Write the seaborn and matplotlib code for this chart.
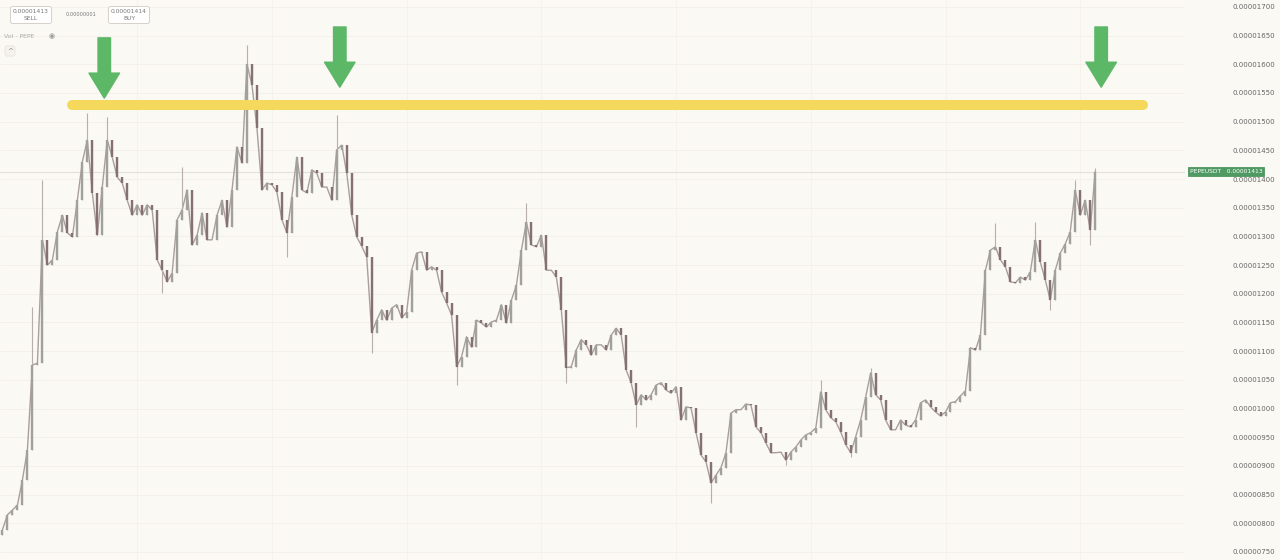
import matplotlib
matplotlib.use("Agg")
import matplotlib.pyplot as plt
import numpy as np
import pandas as pd
import seaborn as sns

# PEPE/USDT closes, in units of 1e-8 USDT (1413 -> 0.00001413)
closes = [789, 815, 823, 832, 876, 928, 1076, 1079, 1294, 1250,
          1259, 1308, 1337, 1306, 1299, 1363, 1430, 1468, 1376, 1302,
          1386, 1468, 1438, 1403, 1393, 1363, 1337, 1355, 1337, 1355,
          1346, 1259, 1241, 1221, 1236, 1329, 1346, 1381, 1285, 1302,
          1341, 1294, 1294, 1337, 1363, 1316, 1381, 1456, 1428, 1600,
          1564, 1489, 1381, 1393, 1390, 1377, 1329, 1306, 1369, 1438,
          1381, 1376, 1416, 1410, 1386, 1386, 1363, 1451, 1459, 1410,
          1337, 1299, 1283, 1264, 1132, 1154, 1172, 1154, 1175, 1181,
          1158, 1168, 1241, 1271, 1273, 1241, 1247, 1241, 1203, 1184,
          1163, 1073, 1090, 1125, 1107, 1154, 1149, 1142, 1151, 1154,
          1181, 1149, 1189, 1215, 1276, 1325, 1285, 1282, 1302, 1241,
          1241, 1229, 1172, 1071, 1073, 1102, 1120, 1111, 1093, 1111,
          1111, 1102, 1128, 1140, 1128, 1067, 1045, 1006, 1024, 1015,
          1024, 1041, 1045, 1032, 1027, 1038, 980, 1003, 1001, 958,
          919, 907, 870, 884, 897, 923, 992, 998, 998, 1008,
          1006, 968, 958, 940, 923, 923, 924, 910, 924, 933,
          945, 954, 958, 966, 1029, 998, 984, 977, 959, 937,
          923, 951, 980, 1020, 1062, 1024, 1015, 980, 963, 963,
          980, 971, 968, 980, 1010, 1015, 1003, 994, 987, 994,
          1010, 1012, 1022, 1031, 1106, 1102, 1128, 1241, 1276, 1282,
          1259, 1247, 1221, 1219, 1229, 1224, 1238, 1294, 1255, 1224,
          1189, 1241, 1271, 1287, 1308, 1381, 1337, 1363, 1311, 1413]
first_open = 780

# long wicks that stick out of the bodies
wick_up_idx = [6, 8, 17, 21, 36, 49, 67, 105, 164, 174, 199, 207, 215, 219]
wick_up_val = [1177, 1398, 1515, 1508, 1421, 1633, 1511, 1358, 1050, 1071, 1323, 1325, 1398, 1419]
wick_dn_idx = [32, 57, 74, 91, 113, 127, 142, 157, 170, 210, 218]
wick_dn_val = [1201, 1264, 1097, 1041, 1045, 968, 836, 902, 916, 1172, 1285]

resistance = 1529
last_price = 1413
price_ticks = list(range(750, 1701, 50))

df = pd.DataFrame({"close": closes})
df["idx"] = np.arange(len(df))
df["open"] = [first_open] + closes[:-1]
df["high"] = df[["open", "close"]].max(axis=1)
df["low"] = df[["open", "close"]].min(axis=1)
df.loc[wick_up_idx, "high"] = wick_up_val
df.loc[wick_dn_idx, "low"] = wick_dn_val

sns.set_theme(style="white")
bg = "#fbf9f4"
fig = plt.figure(figsize=(12.8, 5.6), dpi=100, facecolor=bg)
ax = fig.add_axes([0, 0, 1185 / 1280, 1])
ax.set_facecolor(bg)

# faint grid
for v in price_ticks:
    ax.axhline(v, color="#f2efe8", lw=0.6, zorder=0)
for xv in [27, 54, 81, 108, 135, 162, 189, 216]:
    ax.axvline(xv, color="#f4f1ea", lw=0.6, zorder=0)
ax.axhline(last_price, color="#e4e1d9", lw=0.8, zorder=0)

# candles
sns.lineplot(data=df, x="idx", y="close", ax=ax, color="#aa9e9c", lw=1.0, zorder=2)
up = df["close"] >= df["open"]
ax.vlines(df["idx"], df["low"], df["high"], color="#b8aeac", lw=0.8, zorder=3)
ax.vlines(df.loc[up, "idx"], df.loc[up, "open"], df.loc[up, "close"], color="#a0a29a", lw=1.7, zorder=4)
ax.vlines(df.loc[~up, "idx"], df.loc[~up, "close"], df.loc[~up, "open"], color="#857171", lw=1.7, zorder=4)

# resistance line
ax.plot([14, 228.6], [resistance, resistance], color="#f4d95c", lw=7.2,
        solid_capstyle="round", zorder=5)

# arrows
green = "#5cb766"
for xa, top, tip in [(20.4, 1646, 1541), (67.6, 1665, 1560), (220.2, 1665, 1560)]:
    ax.annotate("", xy=(xa, tip), xytext=(xa, top),
                arrowprops=dict(arrowstyle="simple,head_width=1.1,head_length=0.9,tail_width=0.45",
                                color=green, shrinkA=0, shrinkB=0, mutation_scale=20),
                zorder=6)

ax.set_xlim(-0.5, 237)
ax.set_ylim(736, 1712)
ax.yaxis.tick_right()
ax.set_yticks(price_ticks)
ax.set_yticklabels([f"{v / 1e8:.8f}" for v in price_ticks])
ax.tick_params(axis="y", length=0, pad=34, labelsize=5, labelcolor="#666666")
ax.set_xticks([])
ax.set_xlabel("")
ax.set_ylabel("")
for s in ax.spines.values():
    s.set_visible(False)

# price tag
ax.annotate(f"PEPEUSDT   {last_price / 1e8:.8f}", xy=(1.004, last_price),
            xycoords=("axes fraction", "data"), ha="left", va="center",
            fontsize=4.3, color="white", annotation_clip=False,
            bbox=dict(boxstyle="square,pad=0.35", fc="#4e9a62", ec="#3f8a52", lw=0.5))

# top-left order widgets
def px(x, y):
    return x / 1280, 1 - y / 560

box = dict(boxstyle="round,pad=0.45,rounding_size=0.4", fc="white", ec="#cfcac2", lw=0.6)
fig.text(*px(31, 15), "0.00001413\nSELL", ha="center", va="center", fontsize=4.3,
         color="#777777", linespacing=1.4, bbox=box)
fig.text(*px(81, 15), "0.00000001", ha="center", va="center", fontsize=3.6, color="#777777")
fig.text(*px(129, 15), "0.00001414\nBUY", ha="center", va="center", fontsize=4.3,
         color="#777777", linespacing=1.4, bbox=box)
fig.text(*px(4, 36), "Vol · PEPE", ha="left", va="center", fontsize=4.5, color="#aaaaaa")
fig.text(*px(52, 36), "◉", ha="center", va="center", fontsize=5, color="#999999")
fig.text(*px(10, 51), "^", ha="center", va="center", fontsize=5, color="#888888",
         bbox=dict(boxstyle="round,pad=0.3", fc="#f4f2ed", ec="#e6e2da", lw=0.5))

fig.savefig("out.png", dpi=100, facecolor=bg)
